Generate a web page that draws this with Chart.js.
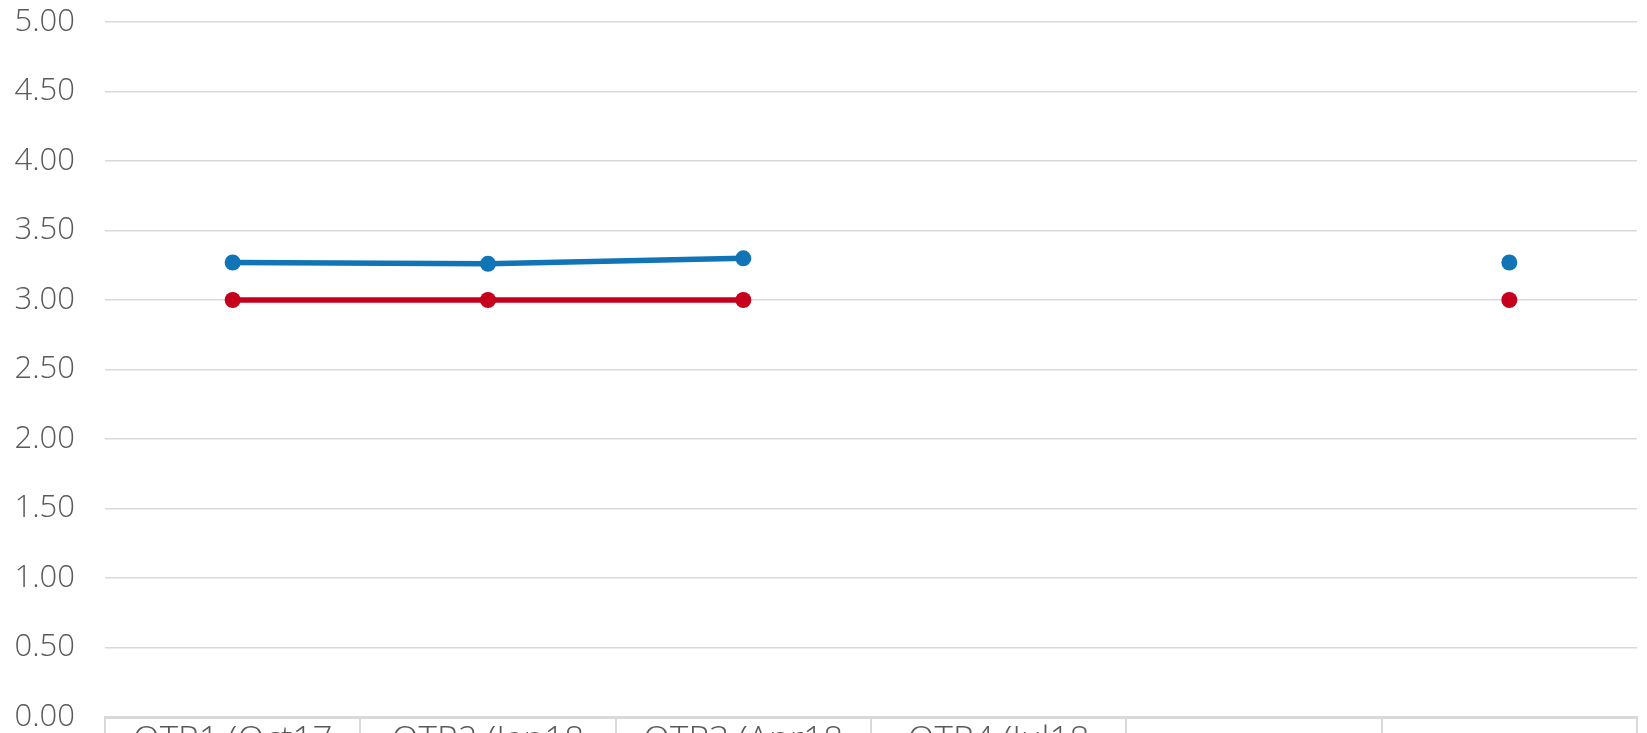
<!DOCTYPE html>
<html lang="en">
<head>
    <meta charset="UTF-8">
    <title>Quarterly scores</title>
    <script src="https://cdn.jsdelivr.net/npm/chart.js"></script>
    <style>
        html, body { margin: 0; padding: 0; background: #ffffff; overflow: hidden; }
        .chart-container { position: relative; width: 1647px; height: 767px; }
    </style>
</head>
<body>
    <div class="chart-container">
        <canvas id="scoreChart"></canvas>
    </div>

    <script>
        // Chart data
        const categories = ['QTR1 (Oct17', 'QTR2 (Jan18', 'QTR3 (Apr18', 'QTR4 (Jul18', '', ''];
        const blueValues = [3.27, 3.26, 3.30, null, null, 3.27];
        const redValues = [3.00, 3.00, 3.00, null, null, 3.00];
        const yTicks = [0, 0.5, 1, 1.5, 2, 2.5, 3, 3.5, 4, 4.5, 5];

        const blue = '#1174b6';
        const red = '#c4001c';
        const gridGray = '#d9d9d9';
        const textGray = '#595959';

        const ctx = document.getElementById('scoreChart').getContext('2d');
        const scoreChart = new Chart(ctx, {
            type: 'line',
            data: {
                labels: categories,
                datasets: [{
                    label: 'Score',
                    data: blueValues,
                    borderColor: blue,
                    backgroundColor: blue,
                    borderWidth: 5.5,
                    pointRadius: 8,
                    pointBorderWidth: 0,
                    pointBackgroundColor: blue,
                    spanGaps: false,
                    tension: 0
                }, {
                    label: 'Target',
                    data: redValues,
                    borderColor: red,
                    backgroundColor: red,
                    borderWidth: 5.5,
                    pointRadius: 8,
                    pointBorderWidth: 0,
                    pointBackgroundColor: red,
                    spanGaps: false,
                    tension: 0
                }]
            },
            options: {
                responsive: true,
                maintainAspectRatio: false,
                animation: false,
                layout: { padding: { top: 22, right: 10, bottom: 0, left: 0 } },
                plugins: {
                    legend: { display: false },
                    tooltip: { enabled: false }
                },
                scales: {
                    x: {
                        offset: true,
                        grid: {
                            offset: true,
                            drawOnChartArea: false,
                            drawTicks: true,
                            tickLength: 60,
                            color: gridGray,
                            lineWidth: 2
                        },
                        border: { display: true, color: gridGray, width: 3 },
                        ticks: {
                            color: textGray,
                            font: { family: 'Open Sans', size: 35, weight: '300', lineHeight: 1 },
                            padding: -53,
                            maxRotation: 0,
                            autoSkip: false
                        },
                        afterFit: function (scale) { scale.height = 50; }
                    },
                    y: {
                        min: 0,
                        max: 5,
                        afterBuildTicks: function (scale) {
                            scale.ticks = yTicks.map(v => ({ value: v }));
                        },
                        grid: {
                            color: gridGray,
                            lineWidth: 1.5,
                            drawTicks: false
                        },
                        border: { display: false },
                        ticks: {
                            color: textGray,
                            font: { family: 'Open Sans', size: 31, weight: '300', lineHeight: 0.8 },
                            padding: 30,
                            callback: function (value) { return Number(value).toFixed(2); }
                        },
                        afterFit: function (scale) {
                            scale.width = 105;
                            scale.paddingTop = 0;
                            scale.paddingBottom = 0;
                        }
                    }
                }
            }
        });
    </script>
</body>
</html>
